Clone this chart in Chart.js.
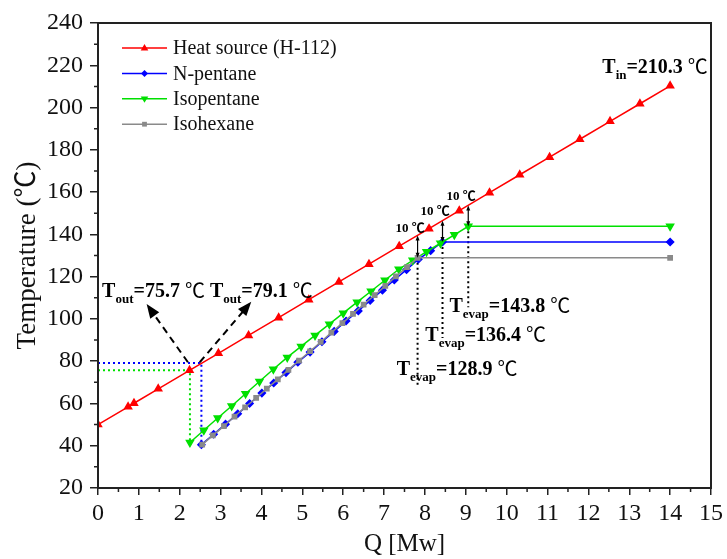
<!DOCTYPE html>
<html><head><meta charset="utf-8">
<script src="https://cdn.jsdelivr.net/npm/chart.js@4/dist/chart.umd.min.js"></script>
<style>html,body{margin:0;padding:0;background:#fff}</style>
</head><body>
<canvas id="c" width="727" height="559" style="display:block;width:727px;height:559px"></canvas>
<script>
// ---- data ----
const heatQ = [0, 0.737, 0.88, 1.474, 2.24, 2.947, 3.684, 4.42, 5.158, 5.895, 6.63, 7.37, 8.1, 8.84, 9.58, 10.32, 11.05, 11.79, 12.53, 13.26, 14];
const heatT = [50.0, 58.4, 60.1, 66.9, 75.7, 83.7, 92.2, 100.6, 109.1, 117.5, 125.9, 134.4, 142.7, 151.2, 159.7, 168.2, 176.5, 185.0, 193.5, 201.8, 210.3];

const npQ = [2.53, 2.83, 3.12, 3.42, 3.71, 4.01, 4.30, 4.60, 4.89, 5.19, 5.48, 5.78, 6.07, 6.37, 6.66, 6.96, 7.25, 7.55, 7.84, 8.14, 8.43, 14];
const npT = [40.5, 45.4, 50.2, 55.1, 60.0, 64.9, 69.7, 74.6, 79.5, 84.3, 89.2, 94.1, 99.0, 103.8, 108.7, 113.6, 118.4, 123.3, 128.2, 132.3, 136.4, 136.4];

const ipQ = [2.25, 2.59, 2.93, 3.27, 3.61, 3.95, 4.29, 4.63, 4.97, 5.31, 5.66, 6.00, 6.34, 6.68, 7.02, 7.36, 7.70, 8.04, 8.38, 8.72, 9.06, 14];
const ipT = [41.5, 47.3, 53.1, 58.8, 64.6, 70.4, 76.2, 81.8, 87.0, 92.2, 97.5, 102.7, 107.9, 113.1, 118.3, 123.5, 127.7, 131.8, 135.8, 139.8, 143.8, 143.8];

const ihQ = [2.55, 2.81, 3.08, 3.34, 3.60, 3.87, 4.13, 4.40, 4.66, 4.92, 5.19, 5.45, 5.71, 5.98, 6.24, 6.50, 6.77, 7.03, 7.29, 7.56, 7.82, 14];
const ihT = [40.5, 44.9, 49.3, 53.8, 58.2, 62.6, 67.0, 71.4, 75.9, 80.3, 84.7, 89.1, 93.5, 98.0, 102.4, 106.8, 111.2, 115.6, 120.1, 124.5, 128.9, 128.9];

const seriesNames = ["Heat source (H-112)", "N-pentane", "Isopentane", "Isohexane"];

// guide lines (outlet temperatures and evaporation pinch points)
const toutIpQ = [0, 2.25, 2.25];   const toutIpT = [75.7, 75.7, 41.5];
const toutNpQ = [0, 2.53, 2.53];   const toutNpT = [79.1, 79.1, 40.5];
const evapQ = [7.82, 8.43, 9.06];
const evapT = [128.9, 136.4, 143.8];
const evapDrop = [68, 91, 105.5];
const sourceAtEvap = [139.5, 146.5, 153.7];

const xTickValues = [0,1,2,3,4,5,6,7,8,9,10,11,12,13,14,15];
const yTickValues = [20,40,60,80,100,120,140,160,180,200,220,240];

const zip = (q, t) => q.map((v, i) => ({x: v, y: t[i]}));
const SERIF = '"Liberation Serif", "Noto Sans CJK SC", serif';
const CJK = '"Noto Sans CJK SC", "DejaVu Sans", sans-serif';

const RED = '#ff0000', BLUE = '#0000ff', GREEN = '#00e000', GRAY = '#8a8a8a';

const dotted = (q, t, color) => ({
  data: zip(q, t), borderColor: color, borderWidth: 2, borderDash: [2, 3],
  pointRadius: 0, fill: false, order: 10, isGuide: true
});

const datasets = [
  {label: seriesNames[0], data: zip(heatQ, heatT), borderColor: RED, backgroundColor: RED,
   borderWidth: 1.5, pointStyle: 'triangle', pointRadius: 4, order: 0},
  {label: seriesNames[1], data: zip(npQ, npT), borderColor: BLUE, backgroundColor: BLUE,
   borderWidth: 1.5, pointStyle: 'rectRot', pointRadius: 3.5, order: 3},
  {label: seriesNames[2], data: zip(ipQ, ipT), borderColor: GREEN, backgroundColor: GREEN,
   borderWidth: 1.5, pointStyle: 'triangle', pointRotation: 180, pointRadius: 4, order: 2},
  {label: seriesNames[3], data: zip(ihQ, ihT), borderColor: GRAY, backgroundColor: GRAY,
   borderWidth: 1.5, pointStyle: 'rect', pointRadius: 3, order: 1},
  dotted(toutIpQ, toutIpT, GREEN),
  dotted(toutNpQ, toutNpT, BLUE),
];
evapQ.forEach((q, i) => datasets.push(dotted([q, q], [evapT[i], evapDrop[i]], '#000')));

function arrowHead(ctx, x1, y1, x2, y2, len, wid) {
  const a = Math.atan2(y2 - y1, x2 - x1);
  ctx.beginPath();
  ctx.moveTo(x2, y2);
  ctx.lineTo(x2 - len*Math.cos(a) + wid/2*Math.sin(a), y2 - len*Math.sin(a) - wid/2*Math.cos(a));
  ctx.lineTo(x2 - len*Math.cos(a) - wid/2*Math.sin(a), y2 - len*Math.sin(a) + wid/2*Math.cos(a));
  ctx.closePath();
  ctx.fill();
}

function subLabel(ctx, x, y, main, sub, value, size) {
  ctx.textBaseline = 'alphabetic';
  ctx.textAlign = 'left';
  ctx.font = `bold ${size}px ${SERIF}`;
  ctx.fillText(main, x, y); x += ctx.measureText(main).width;
  const ss = Math.round(size * 0.65);
  ctx.font = `bold ${ss}px ${SERIF}`;
  ctx.fillText(sub, x, y + size * 0.3); x += ctx.measureText(sub).width;
  ctx.font = `bold ${size}px ${SERIF}`;
  const txt = '=' + value + ' ';
  ctx.fillText(txt, x, y); x += ctx.measureText(txt).width;
  ctx.font = `${size}px ${CJK}`;
  ctx.fillText('\u2103', x, y + 1);
}

function marker(ctx, style, x, y, r, color, rot) {
  ctx.fillStyle = color;
  ctx.beginPath();
  if (style === 'triangle') {
    const s = rot ? -1 : 1;
    ctx.moveTo(x, y - s*r); ctx.lineTo(x - r*0.95, y + s*r*0.6); ctx.lineTo(x + r*0.95, y + s*r*0.6);
  } else if (style === 'rectRot') {
    ctx.moveTo(x, y - r); ctx.lineTo(x + r, y); ctx.lineTo(x, y + r); ctx.lineTo(x - r, y);
  } else {
    ctx.rect(x - r*0.8, y - r*0.8, r*1.6, r*1.6);
  }
  ctx.closePath(); ctx.fill();
}

const decor = {
  id: 'decor',
  afterDraw(chart) {
    const ctx = chart.ctx, xs = chart.scales.x, ys = chart.scales.y, a = chart.chartArea;
    const px = v => xs.getPixelForValue(v), py = v => ys.getPixelForValue(v);
    ctx.save();
    // frame
    ctx.strokeStyle = '#222'; ctx.lineWidth = 2;
    ctx.strokeRect(a.left, a.top, a.right - a.left, a.bottom - a.top);
    // minor ticks
    ctx.lineWidth = 1.5;
    ctx.beginPath();
    for (let v = 0.5; v < 15; v += 1) { ctx.moveTo(px(v), a.bottom); ctx.lineTo(px(v), a.bottom + 4); }
    for (let v = 30; v < 240; v += 20) { ctx.moveTo(a.left, py(v)); ctx.lineTo(a.left - 4, py(v)); }
    ctx.stroke();

    // dashed arrows to T_out labels
    ctx.strokeStyle = '#000'; ctx.fillStyle = '#000'; ctx.lineWidth = 2;
    const dashArrow = (q1, t1, q2, t2) => {
      const x1 = px(q1), y1 = py(t1), x2 = px(q2), y2 = py(t2);
      const ang = Math.atan2(y2 - y1, x2 - x1);
      ctx.setLineDash([7, 5]);
      ctx.beginPath(); ctx.moveTo(x1, y1); ctx.lineTo(x2 - 12*Math.cos(ang), y2 - 12*Math.sin(ang)); ctx.stroke();
      ctx.setLineDash([]);
      arrowHead(ctx, x1, y1, x2, y2, 14, 11);
    };
    dashArrow(2.2, 79.5, 1.19, 107.0);
    dashArrow(2.49, 79.5, 3.75, 108.1);

    // 10 C double arrows
    ctx.lineWidth = 1.2;
    evapQ.forEach((q, i) => {
      const x = px(q), yTop = py(sourceAtEvap[i]), yBot = py(evapT[i]);
      ctx.beginPath(); ctx.moveTo(x, yTop + 3); ctx.lineTo(x, yBot - 3); ctx.stroke();
      arrowHead(ctx, x, yBot, x, yTop, 5, 4);
      arrowHead(ctx, x, yTop, x, yBot, 5, 4);
    });

    // labels
    ctx.fillStyle = '#000';
    ctx.font = `bold 13px ${SERIF}`;
    ctx.textAlign = 'left'; ctx.textBaseline = 'middle';
    ctx.fillText('10 \u2103', px(7.28), py(142.5));
    ctx.fillText('10 \u2103', px(7.89), py(150.6));
    ctx.fillText('10 \u2103', px(8.53), py(157.7));

    subLabel(ctx, px(0.1), py(110.3), 'T', 'out', '75.7', 20);
    subLabel(ctx, px(2.74), py(110.3), 'T', 'out', '79.1', 20);
    subLabel(ctx, px(12.34), py(216.3), 'T', 'in', '210.3', 20);
    subLabel(ctx, px(8.6), py(103.3), 'T', 'evap', '143.8', 20);
    subLabel(ctx, px(8.01), py(89.5), 'T', 'evap', '136.4', 20);
    subLabel(ctx, px(7.31), py(73.5), 'T', 'evap', '128.9', 20);

    // legend
    const styles = [['triangle', 4, RED, false], ['rectRot', 3.5, BLUE, false], ['triangle', 4, GREEN, true], ['rect', 3, GRAY, false]];
    ctx.font = `20px ${SERIF}`;
    ctx.textBaseline = 'middle';
    seriesNames.forEach((name, i) => {
      const y = 48 + i * 25.4;
      const st = styles[i];
      ctx.strokeStyle = st[2]; ctx.lineWidth = 1.5;
      ctx.beginPath(); ctx.moveTo(122, y); ctx.lineTo(167, y); ctx.stroke();
      marker(ctx, st[0], 144.5, y, st[1], st[2], st[3]);
      ctx.fillStyle = '#111';
      ctx.fillText(name, 173, y + 1);
    });
    ctx.restore();
  }
};

new Chart(document.getElementById('c'), {
  type: 'line',
  data: {datasets},
  options: {
    responsive: false, animation: false, events: [],
    layout: {padding: {top: 23, right: 15, left: 0, bottom: 0}},
    plugins: {legend: {display: false}, tooltip: {enabled: false}},
    elements: {line: {tension: 0}},
    scales: {
      x: {
        type: 'linear', min: 0, max: 15,
        afterFit: s => { s.height = 71; },
        afterBuildTicks: s => { s.ticks = xTickValues.map(v => ({value: v})); },
        ticks: {font: {family: SERIF, size: 24}, color: '#111', padding: 4, maxRotation: 0, autoSkip: false},
        grid: {display: true, drawOnChartArea: false, drawTicks: true, tickLength: 7, color: '#222', lineWidth: 1.5},
        border: {display: true, color: '#222', width: 2},
        title: {display: true, text: 'Q [Mw]', font: {family: SERIF, size: 25}, color: '#111', padding: {top: 0, bottom: 0}}
      },
      y: {
        type: 'linear', min: 20, max: 240,
        afterFit: s => { s.width = 98; },
        afterBuildTicks: s => { s.ticks = yTickValues.map(v => ({value: v})); },
        ticks: {font: {family: SERIF, size: 24}, color: '#111', padding: 7, autoSkip: false},
        grid: {display: true, drawOnChartArea: false, drawTicks: true, tickLength: 8, color: '#222', lineWidth: 1.5},
        border: {display: true, color: '#222', width: 2},
        title: {display: true, text: 'Temperature (\u2103)', font: {family: SERIF, size: 27}, color: '#111', padding: {top: 12, bottom: 0}}
      }
    }
  },
  plugins: [decor]
});
</script>
</body></html>
